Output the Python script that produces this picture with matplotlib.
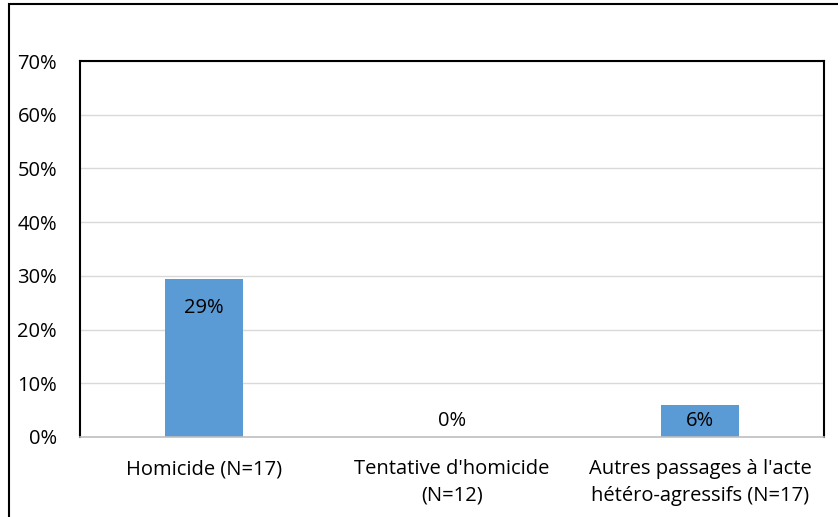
import numpy as np
from matplotlib import pyplot as plt
from matplotlib.patches import Rectangle

# data
categories = ['Homicide (N=17)', "Tentative d'homicide\n(N=12)",
              "Autres passages à l'acte\nhétéro-agressifs (N=17)"]
valeurs = [29.4, 0.0, 5.9]
etiquettes = ['29%', '0%', '6%']
yticks = [0, 10, 20, 30, 40, 50, 60, 70]

plt.rcParams['font.family'] = ['Open Sans', 'DejaVu Sans']
taille = 14.5

fig = plt.figure(figsize=(8.38, 5.17), dpi=100)
ax = fig.add_axes([80/838, 1-437/517, (824-80)/838, (437-61)/517])

x = np.arange(len(categories))
ax.bar(x, valeurs, width=0.315, color='#5B9BD5', zorder=3)

for xi, v, lab in zip(x, valeurs, etiquettes):
    ax.text(xi, max(v - 5.4, 3.0), lab, ha='center', va='center',
            fontsize=taille, color='black', zorder=4)

ax.set_xlim(-0.5, len(categories) - 0.5)
ax.set_ylim(0, 70)
ax.set_yticks(yticks)
ax.set_yticklabels([str(t) + '%' for t in yticks])
ax.set_xticks(x)
ax.set_xticklabels(categories, linespacing=1.45)
ax.tick_params(axis='y', length=0, pad=16.5, labelsize=taille)
ax.tick_params(axis='x', length=0, pad=16, labelsize=taille)
ax.grid(axis='y', color='#D9D9D9', linewidth=1, zorder=0)

for s in ['left', 'top', 'right']:
    ax.spines[s].set_color('black')
    ax.spines[s].set_linewidth(1.5)
ax.spines['bottom'].set_color('#BFBFBF')
ax.spines['bottom'].set_linewidth(1.2)
ax.spines['bottom'].set_zorder(5)

# cadre exterieur
fig.patches.append(Rectangle((9/838, -0.1), 1.2, 1 - 4/517 + 0.1,
                             transform=fig.transFigure, fill=False,
                             edgecolor='black', linewidth=1.5))

fig.savefig('out.png', dpi=100)
